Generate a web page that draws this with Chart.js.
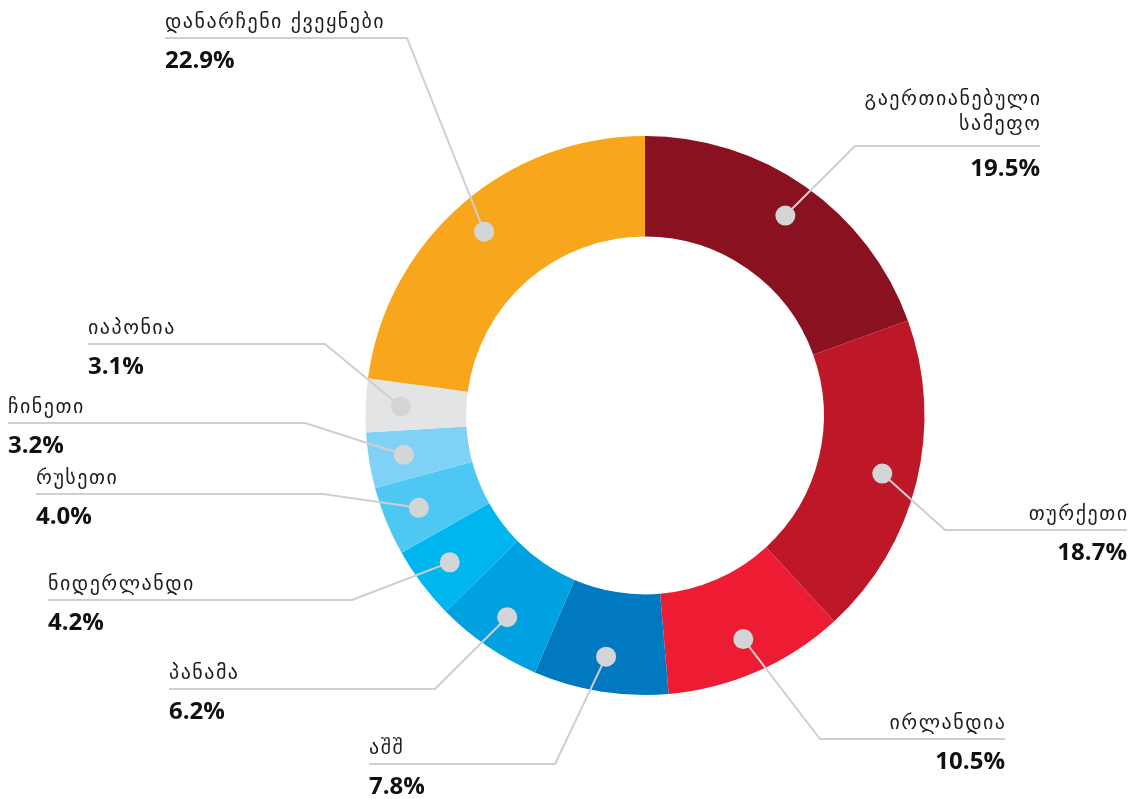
<!DOCTYPE html>
<html>
<head>
<meta charset="utf-8">
<script src="https://cdn.jsdelivr.net/npm/chart.js@4.4.1/dist/chart.umd.min.js"></script>
<style>
  html, body { margin: 0; padding: 0; background: #ffffff; }
  #wrap { width: 1133px; height: 799px; position: relative; }
</style>
</head>
<body>
<div id="wrap"><canvas id="c" width="1133" height="799"></canvas></div>
<script>
// ---- data ----
const categories = [
  "გაერთიანებული სამეფო",
  "თურქეთი",
  "ირლანდია",
  "აშშ",
  "პანამა",
  "ნიდერლანდი",
  "რუსეთი",
  "ჩინეთი",
  "იაპონია",
  "დანარჩენი ქვეყნები"
];
const shares = [19.5, 18.7, 10.5, 7.8, 6.2, 4.2, 4.0, 3.2, 3.1, 22.9];
const shareLabels = ["19.5%", "18.7%", "10.5%", "7.8%", "6.2%", "4.2%", "4.0%", "3.2%", "3.1%", "22.9%"];

// ---- styles ----
const sliceColors = [
  "#8A1220", "#BD1728", "#ED1C32", "#0079C1", "#00A1E1",
  "#00B6EF", "#4EC7F3", "#7FD2F6", "#E3E4E5", "#F8A71D"
];

// label layout: horizontal guide line y, its x-extent, and text alignment side
const labelLayout = [
  { y: 146, x0: 855, x1: 1040, side: "right" },
  { y: 530, x0: 945, x1: 1127, side: "right" },
  { y: 739, x0: 820, x1: 1005, side: "right" },
  { y: 764, x0: 369, x1: 555,  side: "left" },
  { y: 689, x0: 169, x1: 435,  side: "left" },
  { y: 600, x0: 48,  x1: 352,  side: "left" },
  { y: 494, x0: 36,  x1: 323,  side: "left" },
  { y: 423, x0: 8,   x1: 305,  side: "left" },
  { y: 344, x0: 88,  x1: 325,  side: "left" },
  { y: 38,  x0: 165, x1: 407,  side: "left" }
];

const calloutPlugin = {
  id: "callouts",
  afterDatasetsDraw(chart) {
    const ctx = chart.ctx;
    const meta = chart.getDatasetMeta(0);
    const nameFont = "20px 'DejaVu Sans'";
    const pctFont = "bold 24px 'Open Sans'";
    const spacing = 1.5;
    const dots = [];
    meta.data.forEach((arc, i) => {
      const p = arc.getProps(["x", "y", "startAngle", "endAngle", "innerRadius", "outerRadius"], true);
      const mid = (p.startAngle + p.endAngle) / 2;
      const r = p.innerRadius + 0.65 * (p.outerRadius - p.innerRadius);
      const dx = p.x + Math.cos(mid) * r;
      const dy = p.y + Math.sin(mid) * r;
      const L = labelLayout[i];
      const ex = L.side === "left" ? L.x1 : L.x0;
      ctx.save();
      ctx.strokeStyle = "#CFCFCF";
      ctx.lineWidth = 2;
      ctx.lineJoin = "round";
      ctx.beginPath();
      ctx.moveTo(dx, dy);
      ctx.lineTo(ex, L.y);
      ctx.lineTo(L.side === "left" ? L.x0 : L.x1, L.y);
      ctx.stroke();
      ctx.restore();
      dots.push([dx, dy]);

      // texts
      ctx.save();
      ctx.fillStyle = "#1E1E1E";
      ctx.textBaseline = "alphabetic";
      ctx.textAlign = L.side === "left" ? "left" : "right";
      const tx = L.side === "left" ? L.x0 : L.x1;
      ctx.font = nameFont;
      if ("letterSpacing" in ctx) ctx.letterSpacing = spacing + "px";
      const maxW = L.x1 - L.x0;
      const words = categories[i].split(" ");
      const lines = [];
      let cur = "";
      words.forEach(w => {
        const test = cur ? cur + " " + w : w;
        if (cur && ctx.measureText(test).width > maxW) { lines.push(cur); cur = w; }
        else cur = test;
      });
      if (cur) lines.push(cur);
      const lh = 25;
      const nx = L.side === "left" ? tx : tx + spacing;
      lines.forEach((ln, k) => {
        const by = L.y - 10 - (lines.length - 1 - k) * lh - (lines.length > 1 ? 6 : 0);
        ctx.fillText(ln, nx, by);
      });
      if ("letterSpacing" in ctx) ctx.letterSpacing = "0px";
      ctx.font = pctFont;
      ctx.fillStyle = "#111111";
      ctx.fillText(shareLabels[i], tx, L.y + 30);
      ctx.restore();
    });
    ctx.save();
    ctx.fillStyle = "#D4D5D7";
    dots.forEach(([x, y]) => {
      ctx.beginPath();
      ctx.arc(x, y, 10, 0, Math.PI * 2);
      ctx.fill();
    });
    ctx.restore();
  }
};

new Chart(document.getElementById("c"), {
  type: "doughnut",
  data: {
    labels: categories,
    datasets: [{
      data: shares,
      backgroundColor: sliceColors,
      borderWidth: 0,
      hoverOffset: 0,
      offset: 0
    }]
  },
  options: {
    responsive: false,
    animation: false,
    events: [],
    cutout: "64%",
    rotation: 0,
    layout: { padding: { top: 136, bottom: 104, left: 365.5, right: 208.5 } },
    plugins: {
      legend: { display: false },
      tooltip: { enabled: false }
    }
  },
  plugins: [calloutPlugin]
});
</script>
</body>
</html>
